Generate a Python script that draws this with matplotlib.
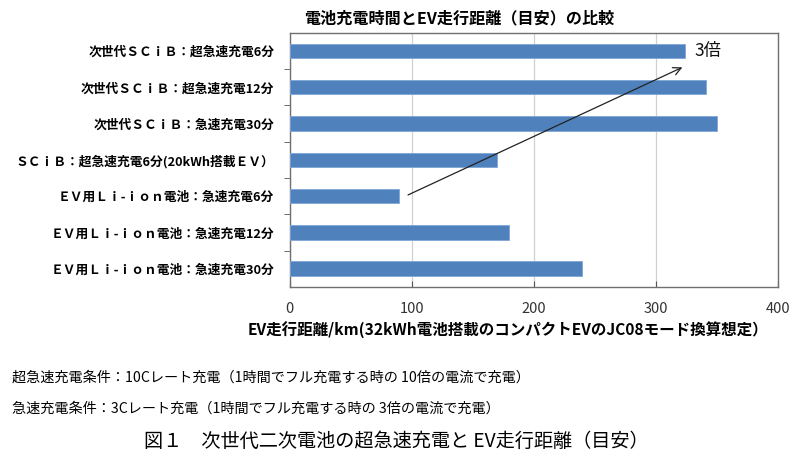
import matplotlib
matplotlib.use("Agg")
import matplotlib.pyplot as plt
from matplotlib.ticker import FixedLocator, NullFormatter

plt.rcParams['font.family'] = ['Noto Sans CJK JP', 'DejaVu Sans']

categories = [
    "次世代ＳＣｉＢ：超急速充電6分",
    "次世代ＳＣｉＢ：超急速充電12分",
    "次世代ＳＣｉＢ：急速充電30分",
    "ＳＣｉＢ：超急速充電6分(20kWh搭載ＥＶ）",
    "ＥＶ用Ｌｉ-ｉｏｎ電池：急速充電6分",
    "ＥＶ用Ｌｉ-ｉｏｎ電池：急速充電12分",
    "ＥＶ用Ｌｉ-ｉｏｎ電池：急速充電30分",
]
distance_km = [324, 341, 350, 170, 90, 180, 240]
x_ticks = [0, 100, 200, 300, 400]

title = "電池充電時間とEV走行距離（目安）の比較"
xlabel = "EV走行距離/km(32kWh電池搭載のコンパクトEVのJC08モード換算想定）"
note1 = "超急速充電条件：10Cレート充電（1時間でフル充電する時の 10倍の電流で充電）"
note2 = "急速充電条件：3Cレート充電（1時間でフル充電する時の 3倍の電流で充電）"
caption = "図１　次世代二次電池の超急速充電と EV走行距離（目安）"
arrow_label = "3倍"

fig = plt.figure(figsize=(8, 4.68), dpi=100)
ax = fig.add_axes([0.362, 0.387, 0.610, 0.543])

ypos = list(range(len(categories)))
ax.barh(ypos, distance_km, height=0.4, color="#4F81BD", edgecolor="#7FA7D6", linewidth=0.6, zorder=3)

ax.set_xlim(0, 400)
ax.set_ylim(len(categories) - 0.5, -0.5)
ax.set_xticks(x_ticks)
ax.set_xticklabels([str(t) for t in x_ticks], fontsize=10.5, color="#333333")
ax.tick_params(axis='x', direction='in', length=4, pad=11, color="#555555")
ax.xaxis.grid(True, color="#D0D0D0", linewidth=0.9, zorder=0)

ax.set_yticks(ypos)
ax.set_yticklabels(categories, fontsize=9.2, fontweight='bold')
ax.tick_params(axis='y', which='major', length=0, pad=11)
ax.yaxis.set_minor_locator(FixedLocator([i + 0.5 for i in range(len(categories) - 1)]))
ax.yaxis.set_minor_formatter(NullFormatter())
ax.tick_params(axis='y', which='minor', direction='out', length=4, color="#555555")

for s in ax.spines.values():
    s.set_color("#707070")
    s.set_linewidth(1.0)

ax.annotate("", xy=(324, 0.42), xytext=(95, 4.0),
            arrowprops=dict(arrowstyle="->", color="#222222", lw=0.9, mutation_scale=14),
            zorder=5)
ax.text(332, 0.0, arrow_label, fontsize=12.5, va='center', ha='left', color="#111111")

fig.text(459 / 800, 1 - 18 / 468, title, ha='center', va='center', fontsize=11.6, fontweight='bold')
fig.text(508 / 800, 1 - 330 / 468, xlabel, ha='center', va='center', fontsize=11.2, fontweight='bold')
fig.text(12 / 800, 1 - 378 / 468, note1, ha='left', va='center', fontsize=10.2)
fig.text(12 / 800, 1 - 409 / 468, note2, ha='left', va='center', fontsize=10.2)
fig.text(396 / 800, 1 - 441 / 468, caption, ha='center', va='center', fontsize=13.8)

fig.savefig("out.png", dpi=100)
